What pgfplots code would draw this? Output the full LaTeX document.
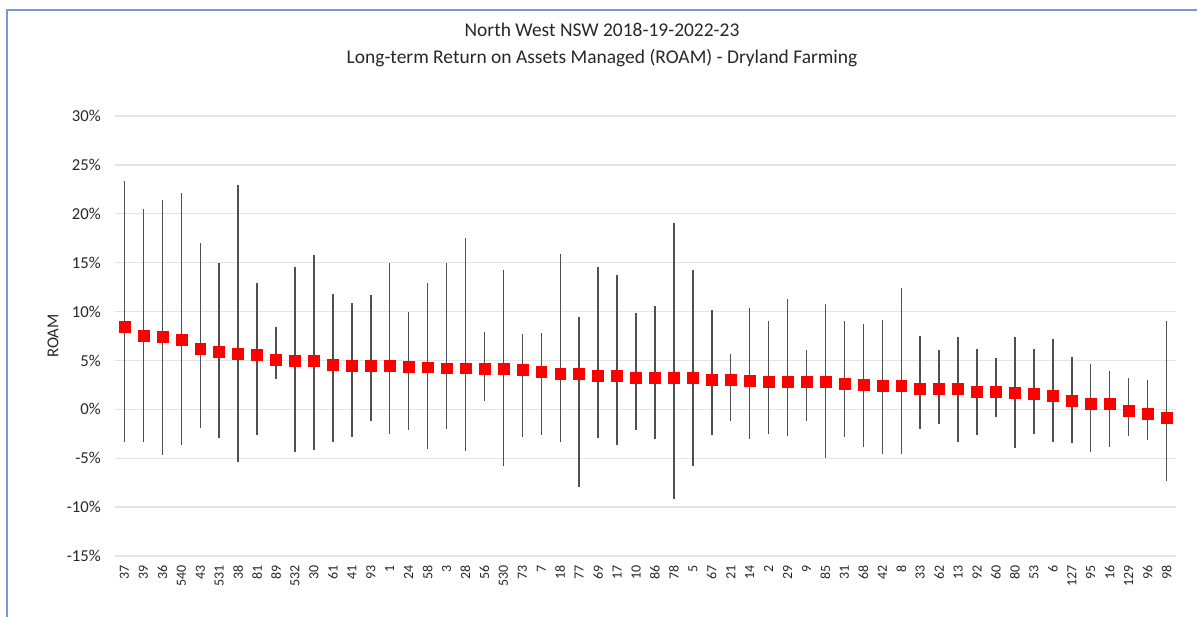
\documentclass[border=0pt]{standalone}
\usepackage{pgfplots}
\pgfplotsset{compat=1.18}
\usepackage{pgfplotstable}
\usepackage{fontspec}
\setmainfont{Carlito}
\definecolor{whisker}{RGB}{80,80,80}
\definecolor{gridgray}{RGB}{228,228,228}
\definecolor{frameblue}{RGB}{125,150,215}
\definecolor{markred}{RGB}{255,0,0}
\definecolor{txt}{RGB}{40,40,40}

\pgfplotstableread{
x y hi lo
0 8.4 23.4 -3.3
1 7.5 20.45 -3.35
2 7.4 21.4 -4.7
3 7.15 22.15 -3.65
4 6.24 17.0 -1.95
5 5.93 14.96 -2.97
6 5.65 22.9 -5.35
7 5.55 12.95 -2.6
8 5.1 8.4 3.1
9 5.0 14.6 -4.33
10 5.0 15.8 -4.16
11 4.56 11.8 -3.3
12 4.46 10.87 -2.87
13 4.46 11.65 -1.23
14 4.46 14.96 -2.5
15 4.4 9.98 -2.1
16 4.3 12.9 -4.1
17 4.2 14.96 -2.0
18 4.2 17.5 -4.23
19 4.12 7.94 0.85
20 4.12 14.28 -5.8
21 4.02 7.73 -2.87
22 3.81 7.83 -2.6
23 3.64 15.9 -3.3
24 3.64 9.4 -7.9
25 3.4 14.6 -2.97
26 3.4 13.7 -3.6
27 3.2 9.88 -2.15
28 3.2 10.6 -3.07
29 3.2 19.08 -9.17
30 3.2 14.3 -5.8
31 3.0 10.2 -2.6
32 3.0 5.7 -1.2
33 2.96 10.4 -3.0
34 2.83 9.06 -2.5
35 2.83 11.3 -2.7
36 2.83 6.03 -1.2
37 2.83 10.77 -4.95
38 2.59 9.06 -2.8
39 2.52 8.76 -3.9
40 2.38 9.17 -4.54
41 2.38 12.44 -4.6
42 2.1 7.5 -2.05
43 2.1 6.1 -1.53
44 2.1 7.43 -3.37
45 1.84 6.2 -2.6
46 1.84 5.28 -0.75
47 1.74 7.43 -3.96
48 1.56 6.13 -2.5
49 1.36 7.22 -3.3
50 0.88 5.38 -3.4
51 0.54 4.63 -4.4
52 0.54 3.92 -3.85
53 -0.17 3.23 -2.76
54 -0.45 3.0 -3.14
55 -0.89 9.06 -7.33
}\datatable

\begin{document}
\begin{tikzpicture}
\useasboundingbox (0,0) rectangle (897.75pt,462.75pt);
\fill[white] (0,0) rectangle (897.75pt,462.75pt);
\draw[frameblue, line width=1.3pt] (5.25pt,-2pt) -- (5.25pt,455.25pt) -- (900pt,455.25pt);
\node[anchor=base, font=\fontsize{14.6}{16}\selectfont, text=txt] at (451.5pt,435pt) {North West NSW 2018-19-2022-23};
\node[anchor=base, font=\fontsize{14.6}{16}\selectfont, text=txt] at (451.5pt,414.75pt) {Long-term Return on Assets Managed (ROAM) - Dryland Farming};
\begin{axis}[
  at={(86.25pt,45.75pt)}, anchor=south west,
  width=795.75pt, height=330pt, scale only axis,
  xmin=-0.5, xmax=55.5, ymin=-15, ymax=30,
  axis line style={draw=none},
  tick style={draw=none},
  ymajorgrids,
  major grid style={gridgray, line width=1pt},
  ytick={-15,-10,...,30},
  yticklabels={-15\%,-10\%,-5\%,0\%,5\%,10\%,15\%,20\%,25\%,30\%},
  yticklabel style={anchor=east, inner sep=0pt, font=\fontsize{12.5}{14}\selectfont, text=txt},
  yticklabel shift=10.5pt,
  xtick={0,...,55},
  xticklabels={37,39,36,540,43,531,38,81,89,532,30,61,41,93,1,24,58,3,28,56,530,73,7,18,77,69,17,10,86,78,5,67,21,14,2,29,9,85,31,68,42,8,33,62,13,92,60,80,53,6,127,95,16,129,96,98},
  xticklabel style={rotate=90, anchor=east, inner sep=0pt, font=\fontsize{10.5}{12}\selectfont, text=txt},
  xticklabel shift=6.5pt,
  ylabel={ROAM},
  ylabel style={at={(axis description cs:-0.0584,0.5)}, anchor=center, rotate=0, font=\fontsize{12.5}{14}\selectfont, text=txt},
  /pgf/number format/assume math mode=true,
  clip=false,
]
\addplot[draw=none, mark=none, forget plot,
  error bars/.cd, y dir=both, y explicit, error mark=none,
  error bar style={draw=whisker, line width=1.1pt}]
  table[x=x, y=y, y error plus expr=\thisrow{hi}-\thisrow{y}, y error minus expr=\thisrow{y}-\thisrow{lo}] {\datatable};
\addplot[only marks, mark=square*, mark size=4.1pt, mark options={fill=markred, draw=markred}]
  table[x=x, y=y] {\datatable};
\end{axis}
\end{tikzpicture}
\end{document}
